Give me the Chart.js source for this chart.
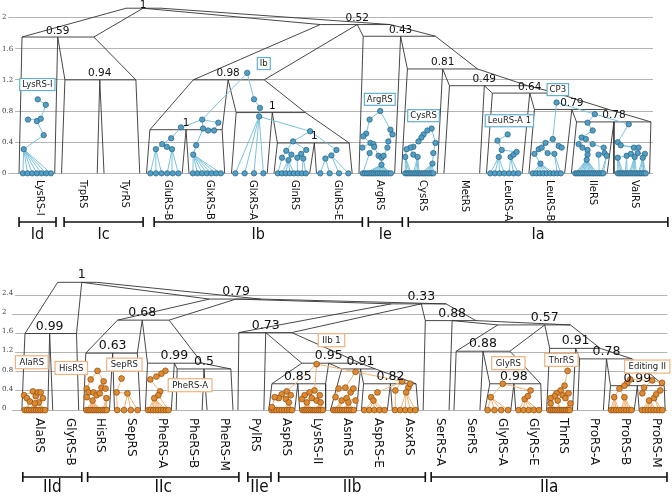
<!DOCTYPE html>
<html>
<head>
<meta charset="utf-8">
<script src="https://cdn.jsdelivr.net/npm/chart.js@4.4.1/dist/chart.umd.min.js"></script>
<style>
html, body { margin: 0; padding: 0; background: #fff; }
canvas { display: block; }
</style>
</head>
<body>
<canvas id="classI" width="672" height="266"></canvas>
<canvas id="classII" width="672" height="230"></canvas>
<script>
// ---------- class I (top) ----------
const topLabels = ['LysRS-I', 'TrpRS', 'TyrRS', 'GluRS-B', 'GlxRS-B', 'GlxRS-A', 'GlnRS', 'GluRS-E',
    'ArgRS', 'CysRS', 'MetRS', 'LeuRS-A', 'LeuRS-B', 'IleRS', 'ValRS'];
const topYTicks = [0, 0.4, 0.8, 1.2, 1.6, 2];
const topTipCounts = [7, 0, 0, 6, 7, 4, 8, 4, 14, 15, 0, 7, 9, 15, 16];
// inner nodes of each family: [offset from family centre, height]
const topInner = [
    [[-0.31, 0.31], [-0.21, 0.69], [0.02, 0.95], [0, 0.67], [0.09, 0.70], [0.21, 0.88], [0.16, 0.49]],
    [],
    [],
    [[-0.2, 0.31], [-0.05, 0.375], [0.06, 0.34], [0.16, 0.45], [0.18, 0.31], [0.39, 0.59]],
    [[-0.32, 0.24], [-0.25, 0.36], [-0.11, 0.69], [-0.09, 0.575], [0.03, 0.55], [0.17, 0.55], [0.27, 0.65]],
    [[0.11, 0.95], [0.25, 0.84], [0.23, 0.73], [-0.05, 1.29]],
    [[-0.23, 0.2], [-0.13, 0.29], [-0.08, 0.17], [-0.01, 0.24], [0.03, 0.41], [0.13, 0.2], [0.22, 0.25],
        [0.27, 0.19], [0.34, 0.3], [0.43, 0.54]],
    [[-0.21, 0.19], [-0.07, 0.23], [0.05, 0.30]],
    [[0.08, 0.8], [-0.17, 0.69], [-0.25, 0.51], [-0.32, 0.475], [-0.34, 0.33], [-0.15, 0.39], [-0.08, 0.375],
        [-0.06, 0.34], [-0.17, 0.26], [0.04, 0.225], [0.11, 0.2], [0.16, 0.225], [0.11, 0.11], [0.25, 0.33],
        [0.27, 0.41], [0.32, 0.56], [0.37, 0.5]],
    [[0.29, 0.575], [0.19, 0.55], [0.1, 0.5], [0.05, 0.46], [-0.02, 0.41], [-0.14, 0.34], [-0.21, 0.33],
        [-0.3, 0.31], [-0.33, 0.21], [-0.14, 0.24], [-0.04, 0.21], [0.38, 0.39], [0.31, 0.125], [0.33, 0.26]],
    [],
    [[0.08, 0.5], [-0.16, 0.42], [-0.06, 0.3], [-0.13, 0.21], [0.15, 0.21], [0.22, 0.24], [0.29, 0.275]],
    [[0.23, 0.91], [0.14, 0.44], [-0.03, 0.39], [-0.19, 0.31], [-0.12, 0.33], [-0.29, 0.25], [-0.15, 0.125],
        [0.28, 0.35], [0.35, 0.33], [0.18, 0.25], [0.02, 0.26]],
    [[0.13, 0.76], [0.08, 0.55], [-0.04, 0.65], [-0.18, 0.46], [-0.08, 0.44], [-0.25, 0.375], [0.08, 0.375],
        [-0.04, 0.3], [-0.04, 0.24], [-0.06, 0.175], [0.22, 0.24], [0.34, 0.33], [0.36, 0.26], [0.41, 0.225],
        [-0.16, 0.33]],
    [[-0.07, 0.63], [-0.33, 0.4], [-0.26, 0.36], [-0.33, 0.2], [-0.12, 0.225], [-0.02, 0.25], [0.05, 0.33],
        [0.14, 0.26], [0.16, 0.33], [0.31, 0.25], [0.26, 0.2], [0.07, 0.21]]
];
// links between families: [family, node, family, node]
const topCross = [[5, 3, 4, 2], [3, 5, 4, 2], [5, 2, 6, 9], [6, 9, 7, 2], [12, 0, 13, 0], [13, 0, 14, 0]];
// clade outline nodes: height, left / split / right ends, children, support
const topCladeH = [1.2, 1.75, 0.56, 0.39, 0.78, 1.2, 0.66, 0.82, 1.03, 1.125, 1.34, 1.76, 1.91, 2.12];
const topCladeL = [0.66, -0.35, 2.66, 5.66, 4.69, 3.68, 12.7, 11.71, 10.72, 9.71, 8.72, 7.68, 6.67, 2.1];
const topCladeS = [1.48, 0.49, 3.51, 6.53, 5.54, 4.5, 13.58, 12.59, 11.6, 10.53, 9.55, 8.56, 7.54, 2.5];
const topCladeR = [2.33, 1.34, 4.36, 7.35, 6.32, 5.35, 14.45, 13.46, 12.23, 11.55, 10.37, 9.38, 8.32, 2.92];
const topCladeKids = [['c1', 'c2'], ['c0', 'n0'], ['c3', 'c4'], ['c6', 'c7'], ['c5', 'n3'], ['n2', 'n4'],
    ['c13', 'c14'], ['c12', 'n6'], ['c11', 'n7'], ['c10', 'n8'], ['c9', 'n9'], ['c8', 'n10'], ['n5', 'n11'], ['n1', 'n12']];
const topSupport = ['0.94', '0.59', '1', '1', '1', '0.98', '0.78', '0.79', '0.64', '0.49', '0.81', '0.43', '0.52', '1'];
const topBoxText = ['LysRS-I', 'Ib', 'ArgRS', 'CysRS', 'LeuRS-A 1', 'CP3'];
const topBoxX = [0.01, 5.34, 8.07, 9.1, 11.12, 12.26];
const topBoxY = [1.14, 1.41, 0.95, 0.74, 0.675, 1.075];
const topGroups = ['Id', 'Ic', 'Ib', 'Ie', 'Ia'];
const topGroupFrom = [-0.42, 0.64, 2.76, 7.8, 8.74];
const topGroupTo = [0.45, 2.5, 7.66, 8.6, 14.85];

// ---------- class II (bottom) ----------
const botLabels = ['AlaRS', 'GlyRS-B', 'HisRS', 'SepRS', 'PheRS-A', 'PheRS-B', 'PheRS-M', 'PylRS', 'AspRS',
    'LysRS-II', 'AsnRS', 'AspRS-E', 'AsxRS', 'SerRS-A', 'SerRS', 'GlyRS-A', 'GlyRS-E', 'ThrRS', 'ProRS-A',
    'ProRS-B', 'ProRS-M'];
const botYTicks = [0, 0.4, 0.8, 1.2, 1.6, 2, 2.4];
const botTipCounts = [10, 0, 11, 4, 9, 0, 0, 0, 9, 11, 10, 5, 5, 0, 0, 4, 5, 12, 0, 9, 8];
const botInner = [
    [[-0.35, 0.31], [-0.26, 0.25], [-0.16, 0.18], [-0.06, 0.39], [0.03, 0.29], [0.1, 0.37], [0.19, 0.37],
        [0.26, 0.25], [0.13, 0.16], [0, 0.14]],
    [],
    [[0.03, 0.82], [-0.19, 0.64], [-0.32, 0.45], [-0.26, 0.37], [-0.1, 0.37], [-0.13, 0.2], [0, 0.31],
        [0.23, 0.6], [0.16, 0.47], [0.29, 0.45], [0.32, 0.25], [0.1, 0.35], [-0.32, 0.27]],
    [[-0.19, 0.66], [-0.35, 0.37], [0, 0.35]],
    [[0.23, 0.82], [0.1, 0.76], [-0.06, 0.7], [-0.26, 0.64], [0.06, 0.39], [0, 0.31], [-0.13, 0.25]],
    [],
    [],
    [],
    [[0.16, 0.39], [0, 0.33], [-0.1, 0.25], [-0.23, 0.27], [0.13, 0.23], [0.29, 0.31], [0.23, 0.16], [-0.32, 0.06]],
    [[0.06, 0.41], [-0.1, 0.37], [-0.26, 0.31], [-0.35, 0.23], [-0.19, 0.16], [-0.03, 0.25], [0.13, 0.2],
        [0.23, 0.31], [0.26, 0.16], [0.13, 0.96]],
    [[-0.16, 0.45], [0.06, 0.47], [0.23, 0.37], [0.32, 0.45], [-0.26, 0.27], [-0.06, 0.2], [0.1, 0.25],
        [0.39, 0.2], [0.16, 0.16], [0.39, 0.8]],
    [[-0.1, 0.27], [0.1, 0.37], [-0.03, 0.2]],
    [[-0.32, 0.41], [0.1, 0.47], [0.03, 0.37], [0.16, 0.55], [-0.1, 0.6]],
    [],
    [],
    [[0.16, 0.55], [-0.23, 0.27]],
    [[-0.13, 0.23], [-0.03, 0.29], [0.06, 0.41]],
    [[0.26, 0.82], [0.16, 0.51], [0.03, 0.41], [-0.1, 0.35], [-0.16, 0.29], [-0.29, 0.25], [-0.06, 0.2],
        [0.1, 0.31], [0.19, 0.25], [0.29, 0.35], [0.35, 0.14], [-0.29, 0.14]],
    [],
    [[0.29, 0.64], [0.19, 0.57], [0.1, 0.51], [-0.06, 0.45], [-0.23, 0.27], [0.1, 0.27]],
    [[0, 0.62], [-0.26, 0.47], [0.32, 0.57], [-0.1, 0.2], [0.06, 0.25], [0.13, 0.33], [0.26, 0.41], [-0.32, 0.35]]
];
const botCross = [[8, 0, 9, 9], [10, 9, 9, 9], [12, 4, 10, 9], [11, 1, 12, 4], [16, 2, 15, 0], [20, 0, 19, 0]];
const botCladeH = [1.6, 1.19, 0.86, 0.98, 1.88, 0.55, 0.55, 0.86, 0.98, 1.62, 0.55, 1.23, 0.51, 1.07, 1.29, 1.78, 1.87, 2.22, 2.32, 2.67];
const botCladeL = [-0.32, 1.65, 4.61, 3.65, 2.68, 7.68, 10.65, 9.94, 8.65, 6.61, 14.74, 13.65, 18.65, 17.65, 16.68, 15.0, 12.65, 11.55, 5.65, 0.74];
const botCladeS = [0.48, 2.52, 5.48, 4.52, 3.48, 8.52, 11.52, 10.55, 9.52, 7.48, 15.52, 14.52, 19.52, 18.52, 17.52, 16.52, 13.52, 12.52, 6.52, 1.52];
const botCladeR = [1.35, 3.32, 6.35, 5.42, 4.35, 9.42, 12.35, 11.03, 10.55, 8.32, 16.39, 15.39, 20.39, 19.35, 18.32, 17.35, 14.29, 13.32, 7.32, 2.0];
const botCladeKids = [['c0', 'c1'], ['c2', 'c3'], ['c5', 'c6'], ['c4', 'n2'], ['n1', 'n3'], ['c8', 'c9'],
    ['c11', 'c12'], ['c10', 'n6'], ['n5', 'n7'], ['c7', 'n8'], ['c15', 'c16'], ['c14', 'n10'], ['c19', 'c20'],
    ['c18', 'n12'], ['c17', 'n13'], ['n11', 'n14'], ['c13', 'n15'], ['n9', 'n16'], ['n4', 'n17'], ['n0', 'n18']];
const botSupport = ['0.99', '0.63', '0.5', '0.99', '0.68', '0.85', '0.82', '0.91', '0.95', '0.73', '0.98',
    '0.88', '0.99', '0.78', '0.91', '0.57', '0.88', '0.33', '0.79', '1'];
const botBoxText = ['AlaRS', 'HisRS', 'SepRS', 'PheRS-A', 'IIb 1', 'GlyRS', 'ThrRS', 'Editing II'];
const botBoxX = [-0.1, 1.18, 2.9, 5.03, 9.61, 15.34, 17.06, 19.84];
const botBoxY = [1.0, 0.88, 0.95, 0.52, 1.46, 0.98, 1.05, 0.91];
const botGroups = ['IId', 'IIc', 'IIe', 'IIb', 'IIa'];
const botGroupFrom = [-0.39, 1.71, 6.9, 7.9, 12.84];
const botGroupTo = [1.52, 6.61, 7.65, 12.65, 20.48];

const LEAF_HALF = 0.42;

// outline of every clade: top bar plus the four slanted sides down to its children
function cladeSegments(H, L, S, R, kids) {
    const corner = (k, side) => {
        const idx = +k.slice(1);
        if (k[0] === 'c') return { x: idx + side * LEAF_HALF, y: 0 };
        return { x: side < 0 ? L[idx] : R[idx], y: H[idx] };
    };
    const segs = [];
    H.forEach((h, i) => {
        const [a, b] = kids[i];
        segs.push([{ x: L[i], y: h }, { x: R[i], y: h }]);
        segs.push([{ x: L[i], y: h }, corner(a, -1)]);
        segs.push([{ x: S[i], y: h }, corner(a, 1)]);
        segs.push([{ x: S[i], y: h }, corner(b, -1)]);
        segs.push([{ x: R[i], y: h }, corner(b, 1)]);
    });
    return segs;
}

// nodes inside each family, each joined to the closest node above it
function familyTrees(inner, tipCounts, cross) {
    const points = [];
    const links = [];
    const byFamily = [];
    const nearestAbove = (n, nodes) => {
        let best = null, bd = Infinity;
        nodes.forEach(m => {
            if (m.y <= n.y) return;
            const d = Math.hypot((m.x - n.x) * 0.6, m.y - n.y);
            if (d < bd) { bd = d; best = m; }
        });
        return best;
    };
    inner.forEach((list, c) => {
        const nodes = list.map(([dx, h]) => ({ x: c + dx, y: h }));
        byFamily.push(nodes);
        nodes.forEach(n => {
            const p = nearestAbove(n, nodes);
            if (p) links.push([n, p]);
        });
        const count = tipCounts[c];
        for (let k = 0; k < count; k++) {
            const tip = { x: c - 0.33 + 0.66 * k / Math.max(count - 1, 1), y: 0 };
            const p = nearestAbove(tip, nodes);
            if (p) links.push([tip, p]);
            points.push(tip);
        }
        points.push(...nodes);
    });
    cross.forEach(([a, i, b, j]) => links.push([byFamily[a][i], byFamily[b][j]]));
    return { points, links };
}

const decor = {
    id: 'decor',
    afterDraw(chart, args, o) {
        const { ctx } = chart;
        const xs = chart.scales.x, ys = chart.scales.y;
        ctx.save();

        // y tick labels
        ctx.font = o.yFont;
        ctx.textAlign = 'left';
        ctx.textBaseline = 'middle';
        ys.ticks.forEach(t => {
            const py = ys.getPixelForValue(t.value) + o.yDy;
            const s = String(+t.value.toFixed(1));
            const w = ctx.measureText(s).width;
            ctx.fillStyle = '#fff';
            ctx.fillRect(1, py - 3, w + 3, 6);
            ctx.fillStyle = '#444';
            ctx.fillText(s, 2, py);
        });

        // support values
        ctx.fillStyle = '#111';
        ctx.font = o.supportFont;
        ctx.textAlign = 'center';
        ctx.textBaseline = 'bottom';
        o.support.forEach((s, i) => {
            const py = Math.max(ys.getPixelForValue(o.cladeH[i]) - 1, o.supportSize + 0.5);
            ctx.fillText(s, xs.getPixelForValue(o.cladeS[i]), py);
        });

        // boxed annotations
        ctx.font = o.boxFont;
        ctx.textBaseline = 'middle';
        o.boxText.forEach((s, i) => {
            const cx = xs.getPixelForValue(o.boxX[i]);
            const cy = ys.getPixelForValue(o.boxY[i]);
            const w = ctx.measureText(s).width + 2 * o.boxPad;
            const h = o.boxH;
            ctx.fillStyle = '#fff';
            ctx.fillRect(cx - w / 2, cy - h / 2, w, h);
            ctx.strokeStyle = o.boxColor;
            ctx.lineWidth = 1.2;
            ctx.strokeRect(cx - w / 2, cy - h / 2, w, h);
            ctx.fillStyle = '#222';
            ctx.fillText(s, cx, cy + 0.5);
        });

        // family names, rotated to read downwards
        ctx.font = o.labelFont;
        ctx.fillStyle = '#111';
        ctx.textAlign = 'left';
        ctx.textBaseline = 'middle';
        o.labels.forEach((s, i) => {
            ctx.save();
            ctx.translate(xs.getPixelForValue(i) + o.labelShift, o.labelTop);
            ctx.rotate(Math.PI / 2);
            ctx.fillText(s, 0, 0);
            ctx.restore();
        });

        // class brackets
        ctx.strokeStyle = '#111';
        ctx.lineWidth = 1.6;
        ctx.font = o.groupFont;
        ctx.textAlign = 'center';
        ctx.textBaseline = 'middle';
        o.groups.forEach((g, i) => {
            const a = xs.getPixelForValue(o.groupFrom[i]);
            const b = Math.min(xs.getPixelForValue(o.groupTo[i]), chart.width - 1);
            ctx.beginPath();
            ctx.moveTo(a, o.groupY); ctx.lineTo(b, o.groupY);
            ctx.moveTo(a, o.groupY - 5); ctx.lineTo(a, o.groupY + 5);
            ctx.moveTo(b, o.groupY - 5); ctx.lineTo(b, o.groupY + 5);
            ctx.stroke();
            ctx.fillText(g, (a + b) / 2, o.groupTextY);
        });
        ctx.restore();
    }
};

function makeChart(id, cfg) {
    const trees = familyTrees(cfg.inner, cfg.tips, cfg.cross);
    const datasets = [{
        data: trees.points,
        pointRadius: cfg.radius,
        pointBackgroundColor: cfg.fill,
        pointBorderColor: cfg.edge,
        pointBorderWidth: 0.7,
        order: 0
    }];
    trees.links.forEach(l => datasets.push({
        data: l, showLine: true, borderColor: cfg.linkColor, borderWidth: 1, pointRadius: 0, order: 1
    }));
    cladeSegments(cfg.cladeH, cfg.cladeL, cfg.cladeS, cfg.cladeR, cfg.kids).forEach(s => datasets.push({
        data: s, showLine: true, borderColor: '#333', borderWidth: 0.9, pointRadius: 0, order: 2
    }));

    return new Chart(document.getElementById(id), {
        type: 'scatter',
        data: { datasets },
        options: {
            responsive: false,
            animation: false,
            events: [],
            layout: { padding: cfg.padding },
            plugins: {
                legend: { display: false },
                tooltip: { enabled: false },
                decor: cfg.decor
            },
            scales: {
                x: { type: 'linear', min: cfg.xMin, max: cfg.xMax, display: false },
                y: {
                    type: 'linear',
                    min: cfg.yMin,
                    max: cfg.yMax,
                    afterBuildTicks: s => { s.ticks = cfg.yTicks.map(v => ({ value: v })); },
                    afterFit: s => { s.width = 0; },
                    ticks: { display: false },
                    border: { display: false },
                    grid: { color: '#b4b4b4', lineWidth: 1, drawTicks: false }
                }
            }
        },
        plugins: [decor]
    });
}

makeChart('classI', {
    inner: topInner, tips: topTipCounts, cross: topCross,
    cladeH: topCladeH, cladeL: topCladeL, cladeS: topCladeS, cladeR: topCladeR, kids: topCladeKids,
    radius: 2.7, fill: '#4f9fc6', edge: '#2a5f7c', linkColor: '#7cc2dc',
    padding: { left: 8, right: 19, top: 0, bottom: 88 },
    xMin: -0.68, xMax: 14.5, yMin: -0.06, yMax: 2.165, yTicks: topYTicks,
    decor: {
        yFont: '7px "DejaVu Serif"', yDy: 0,
        support: topSupport, cladeH: topCladeH, cladeS: topCladeS,
        supportFont: '10.5px "DejaVu Sans"', supportSize: 10.5,
        boxText: topBoxText, boxX: topBoxX, boxY: topBoxY, boxFont: '8.5px "DejaVu Sans"',
        boxPad: 2.5, boxH: 12, boxColor: '#63afd0',
        labels: topLabels, labelFont: '10px "DejaVu Sans"', labelTop: 180, labelShift: 3,
        groups: topGroups, groupFrom: topGroupFrom, groupTo: topGroupTo,
        groupFont: '16px "Liberation Sans Narrow", "DejaVu Sans Condensed", "Liberation Sans"',
        groupY: 222, groupTextY: 235
    }
});

makeChart('classII', {
    inner: botInner, tips: botTipCounts, cross: botCross,
    cladeH: botCladeH, cladeL: botCladeL, cladeS: botCladeS, cladeR: botCladeR, kids: botCladeKids,
    radius: 2.9, fill: '#e08a2e', edge: '#8a4a12', linkColor: '#f2b476',
    padding: { left: 12, right: 2, top: 2, bottom: 81 },
    xMin: -0.74, xMax: 20.49, yMin: -0.1026, yMax: 2.913, yTicks: botYTicks,
    decor: {
        yFont: '7px "DejaVu Serif"', yDy: -2,
        support: botSupport, cladeH: botCladeH, cladeS: botCladeS,
        supportFont: '12.5px "DejaVu Sans"', supportSize: 12.5,
        boxText: botBoxText, boxX: botBoxX, boxY: botBoxY, boxFont: '8.5px "DejaVu Sans"',
        boxPad: 4, boxH: 13, boxColor: '#efb27c',
        labels: botLabels, labelFont: '12px "DejaVu Sans"', labelTop: 152, labelShift: 4,
        groups: botGroups, groupFrom: botGroupFrom, groupTo: botGroupTo,
        groupFont: '17px "Liberation Sans Narrow", "DejaVu Sans Condensed", "Liberation Sans"',
        groupY: 211, groupTextY: 222
    }
});
</script>
</body>
</html>
